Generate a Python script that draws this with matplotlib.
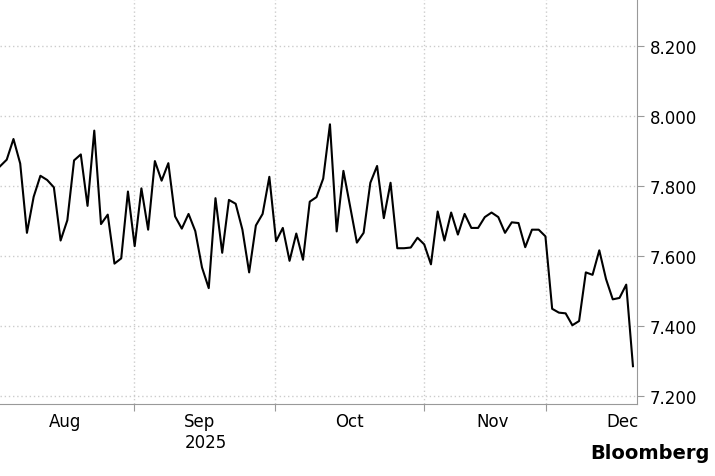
import numpy as np
import matplotlib.pyplot as plt

# daily values (business days, Jul -> Dec 2025)
values = [7.856, 7.875, 7.934, 7.864, 7.666, 7.769, 7.829, 7.817, 7.796, 7.644,
          7.702, 7.873, 7.890, 7.743, 7.958, 7.691, 7.718, 7.578, 7.593, 7.784,
          7.628, 7.793, 7.675, 7.871, 7.815, 7.865, 7.713, 7.678, 7.720, 7.671,
          7.567, 7.508, 7.765, 7.609, 7.760, 7.749, 7.675, 7.553, 7.687, 7.720,
          7.826, 7.642, 7.680, 7.586, 7.664, 7.589, 7.755, 7.768,
          7.821, 7.976, 7.670, 7.843, 7.741, 7.638, 7.666, 7.809, 7.857, 7.708,
          7.809, 7.622, 7.622, 7.624, 7.652, 7.633, 7.576, 7.727, 7.644, 7.724,
          7.661, 7.720, 7.680, 7.680, 7.711, 7.724, 7.711, 7.666, 7.696, 7.694,
          7.625, 7.675, 7.675, 7.656, 7.449, 7.438, 7.436, 7.402, 7.414, 7.553,
          7.546, 7.616, 7.534, 7.476, 7.480, 7.518, 7.285]

month_edges = [19.9, 40.9, 63.0, 81.1]      # month boundaries in point index
month_mid = [9.7, 30.5, 51.9, 73.1, 92.4]
month_labels = ['Aug', 'Sep\n2025', 'Oct', 'Nov', 'Dec']
yticks = [7.2, 7.4, 7.6, 7.8, 8.0, 8.2]

fig = plt.figure(figsize=(7.15, 4.77), dpi=100)
ax = fig.add_axes([0, 72 / 477, 637 / 715, 405 / 477])

x = np.arange(len(values))
ax.plot(x, values, color='black', lw=1.5)

ax.set_xlim(0, 94.6)
ax.set_ylim(7.177, 8.334)

ax.yaxis.tick_right()
ax.set_yticks(yticks)
ax.set_yticklabels(['%.3f' % v for v in yticks], fontsize=12)
ax.set_xticks(month_edges)
ax.set_xticklabels([])
ax.set_xticks(month_mid, minor=True)
ax.set_xticklabels(month_labels, minor=True, fontsize=12, va='top')
ax.tick_params(axis='x', which='minor', length=0, pad=6)
ax.tick_params(axis='x', which='major', length=5, color='#999999')
ax.tick_params(axis='y', length=5, color='#999999', pad=4)
for lab in ax.get_xticklabels(minor=True):
    lab.set_multialignment('left')

ax.grid(True, which='major', color='#cccccc', ls=(0, (1, 2)), lw=1)
for s in ['top', 'left']:
    ax.spines[s].set_visible(False)
ax.spines['right'].set_color('#999999')
ax.spines['bottom'].set_color('#999999')

fig.text(0.993, 0.03, 'Bloomberg', ha='right', va='bottom', fontsize=14, fontweight='bold')

fig.savefig('out.png', dpi=100)
